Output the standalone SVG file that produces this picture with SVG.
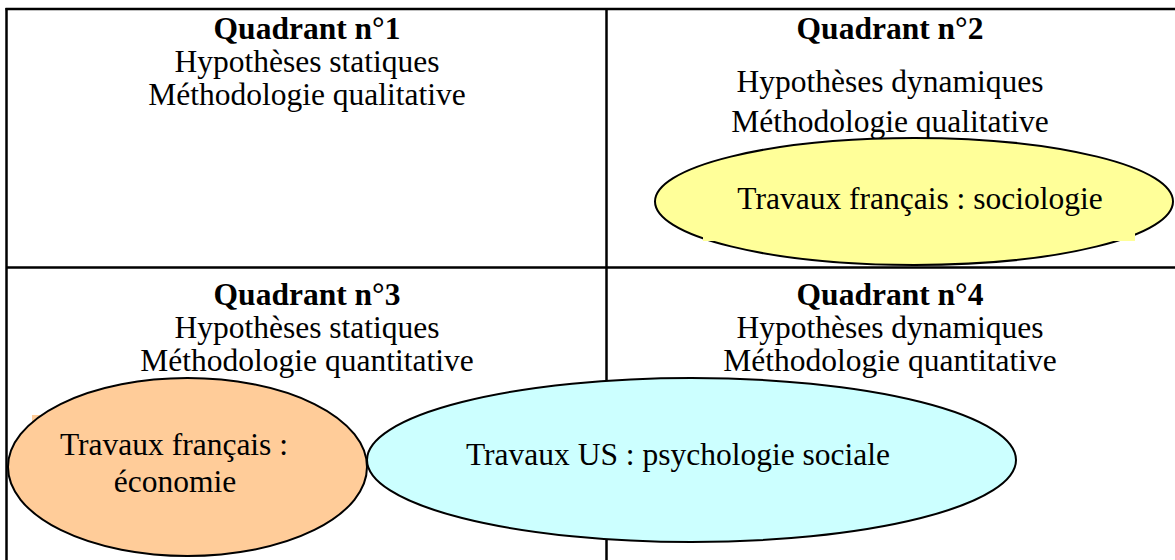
<svg xmlns="http://www.w3.org/2000/svg" width="1175" height="560" viewBox="0 0 1175 560">
<style>
.t{font-family:"Liberation Serif","Times New Roman",serif;font-size:31.5px;fill:#000;text-anchor:middle}
.b{font-weight:bold}
.grid{stroke:#000;stroke-width:2.5;fill:none}
.el{stroke:#000;stroke-width:2}
</style>
<rect width="1175" height="560" fill="#fff"/>
<g id="grid">
<line class="grid" x1="5.5" y1="9" x2="1175" y2="9"/>
<line class="grid" x1="6.5" y1="8" x2="6.5" y2="560"/>
<line class="grid" x1="6.5" y1="267.5" x2="1175" y2="267.5"/>
<line class="grid" x1="606.5" y1="9" x2="606.5" y2="560"/>
</g>
<g id="q1">
<text class="t b" x="307" y="39">Quadrant n°1</text>
<text class="t" x="307" y="72">Hypothèses statiques</text>
<text class="t" x="307" y="105">Méthodologie qualitative</text>
</g>
<g id="q2">
<text class="t b" x="890" y="39">Quadrant n°2</text>
<text class="t" x="890" y="92">Hypothèses dynamiques</text>
<text class="t" x="890" y="132">Méthodologie qualitative</text>
</g>
<g id="q3">
<text class="t b" x="307" y="305">Quadrant n°3</text>
<text class="t" x="307" y="338">Hypothèses statiques</text>
<text class="t" x="307" y="371">Méthodologie quantitative</text>
</g>
<g id="q4">
<text class="t b" x="890" y="305">Quadrant n°4</text>
<text class="t" x="890" y="338">Hypothèses dynamiques</text>
<text class="t" x="890" y="371">Méthodologie quantitative</text>
</g>
<g id="sociologie">
<ellipse class="el" cx="914" cy="201.5" rx="259" ry="63.5" fill="#FFFF99"/>
<rect x="703" y="170" width="432" height="71" fill="#FFFF99"/>
<text class="t" x="920" y="209">Travaux français : sociologie</text>
</g>
<g id="economie">
<rect x="32" y="415" width="300" height="95" fill="#FFCC99"/>
<ellipse class="el" cx="187.5" cy="467" rx="179.5" ry="89" fill="#FFCC99"/>
<text class="t" x="174" y="455">Travaux français :</text>
<text class="t" x="175" y="492">économie</text>
</g>
<g id="psychologie">
<ellipse class="el" cx="691.5" cy="460" rx="324.5" ry="82" fill="#CCFFFF"/>
<text class="t" x="678" y="465">Travaux US : psychologie sociale</text>
</g>
</svg>
